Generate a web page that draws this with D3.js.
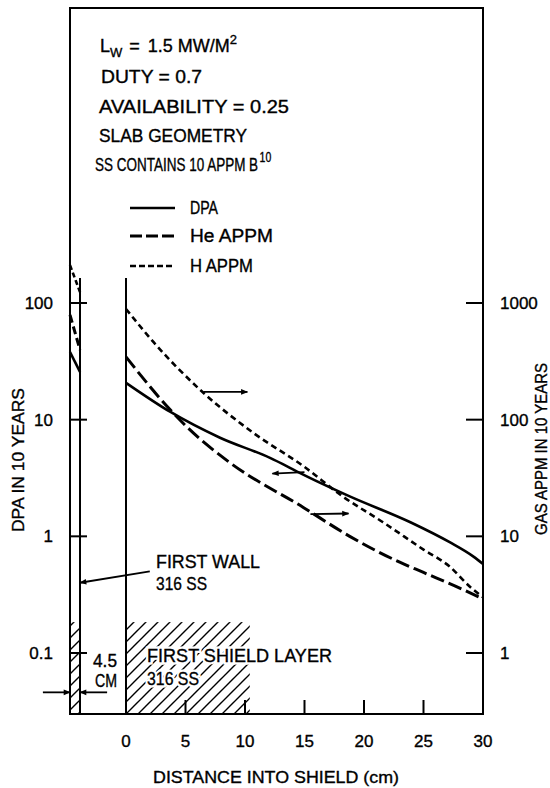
<!DOCTYPE html>
<html>
<head>
<meta charset="utf-8">
<script src="https://cdn.jsdelivr.net/npm/d3@7"></script>
<style>
  html, body { margin: 0; padding: 0; background: #fff; }
  svg { display: block; }
  text { font-family: "Liberation Sans", Arial, sans-serif; fill: #000; }
</style>
</head>
<body>
<script>
// ---------------- DATA ----------------
// Shield (distance into shield, cm)
const dpaDist = [0, 3.7, 7.9, 12.1, 13.5, 14.6, 18.8, 23.9, 27.2, 29.2, 30];
const dpaVal  = [20.7, 11.7, 7.0, 4.7, 4.0, 3.5, 2.2, 1.32, 0.89, 0.67, 0.58];   // DPA (left axis)
const heDist  = [0, 3.7, 5.1, 8.7, 14.9, 18.8, 23, 25, 28.3, 30];
const heVal   = [345, 122, 87, 43, 17.7, 10, 6.0, 4.9, 3.5, 2.9];                 // He APPM (right axis)
const hDist   = [0, 2.3, 6.5, 10.7, 14.9, 18.2, 21.6, 25, 27.2, 28.9, 30];
const hVal    = [889, 464, 170, 77, 40, 22, 13.2, 7.7, 5.5, 3.7, 3.0];             // H APPM (right axis)
// First wall (4.5 cm, separate scale)
const fwDist  = [0, 4.5];
const fwDpa   = [38, 25.7];
const fwHe    = [790, 396];
const fwH     = [2110, 1240];

const xTicks      = [0, 5, 10, 15, 20, 25, 30];
const leftTicks   = [0.1, 1, 10, 100];
const leftLabels  = ["0.1", "1", "10", "100"];
const rightTicks  = [1, 10, 100, 1000];
const rightLabels = ["1", "10", "100", "1000"];

const infoLines = ["DUTY = 0.7", "AVAILABILITY = 0.25", "SLAB GEOMETRY", "SS CONTAINS 10 APPM B"];
const legendNames = ["DPA", "He APPM", "H APPM"];

// ---------------- LAYOUT ----------------
const W = 550, H = 788;
const frame = { left: 70, right: 483, top: 8, bottom: 714 };

const svg = d3.select("body").append("svg").attr("width", W).attr("height", H);

const x  = d3.scaleLinear().domain([0, 30]).range([126, 483]);
const fw = d3.scaleLinear().domain([0, 4.5]).range([70, 80]);
const yL = d3.scaleLog().domain([0.1, 100]).range([653, 303]);
const yR = d3.scaleLog().domain([1, 1000]).range([653, 303]);

const ink = "#000";

// arrow marker
const defs = svg.append("defs");
defs.append("marker").attr("id", "ah")
  .attr("viewBox", "0 0 10 10").attr("refX", 9).attr("refY", 5)
  .attr("markerWidth", 13).attr("markerHeight", 7).attr("markerUnits", "userSpaceOnUse")
  .attr("orient", "auto")
  .append("path").attr("d", "M0,1 L10,5 L0,9 Z").attr("fill", ink);

const pat = defs.append("pattern").attr("id", "hatch")
  .attr("patternUnits", "userSpaceOnUse").attr("width", 12).attr("height", 12);
pat.append("path").attr("d", "M-3,3 L3,-3 M0,12 L12,0 M9,15 L15,9")
  .attr("stroke", ink).attr("stroke-width", 1.4);

// ---------------- HATCHED LAYERS ----------------
const hatchTop = 0.184; // DPA level of hatched block top
svg.append("rect").attr("x", x(0)).attr("y", yL(hatchTop))
  .attr("width", x(10.4) - x(0)).attr("height", frame.bottom - yL(hatchTop))
  .attr("fill", "url(#hatch)");
svg.append("rect").attr("x", fw(0)).attr("y", yL(hatchTop))
  .attr("width", fw(4.5) - fw(0)).attr("height", frame.bottom - yL(hatchTop))
  .attr("fill", "url(#hatch)");

// ---------------- FRAME ----------------
const g = svg.append("g").attr("stroke", ink).attr("stroke-width", 2).attr("fill", "none");
g.append("path").attr("d",
  `M${frame.left},${frame.bottom} L${frame.left},${frame.top} L${frame.right},${frame.top} L${frame.right},${frame.bottom} Z`);
// back of first wall and front of shield
const innerTop = yL(164);
g.append("line").attr("x1", fw(4.5)).attr("x2", fw(4.5)).attr("y1", innerTop).attr("y2", frame.bottom);
g.append("line").attr("x1", x(0)).attr("x2", x(0)).attr("y1", innerTop).attr("y2", frame.bottom);

// ticks
leftTicks.forEach(v => g.append("line").attr("x1", frame.left).attr("x2", frame.left + 17)
  .attr("y1", yL(v)).attr("y2", yL(v)));
rightTicks.forEach(v => g.append("line").attr("x1", frame.right - 17).attr("x2", frame.right)
  .attr("y1", yR(v)).attr("y2", yR(v)));
xTicks.forEach(v => g.append("line").attr("x1", x(v)).attr("x2", x(v))
  .attr("y1", frame.bottom).attr("y2", frame.bottom - 14));

// tick labels
const tl = svg.append("g").attr("font-size", 17).attr("stroke", ink).attr("stroke-width", 0.35);
leftTicks.forEach((v, i) => tl.append("text").attr("x", 53).attr("y", yL(v)).attr("dy", "0.36em")
  .attr("text-anchor", "end").text(leftLabels[i]));
rightTicks.forEach((v, i) => tl.append("text").attr("x", 500).attr("y", yR(v)).attr("dy", "0.36em")
  .attr("text-anchor", "start").text(rightLabels[i]));
xTicks.forEach(v => tl.append("text").attr("x", x(v)).attr("y", 747)
  .attr("text-anchor", "middle").text(v));

// axis titles
const at = svg.append("g").attr("font-size", 17).attr("stroke", ink).attr("stroke-width", 0.35);
at.append("text").attr("x", 153).attr("y", 783).attr("textLength", 246)
  .attr("lengthAdjust", "spacingAndGlyphs").text("DISTANCE INTO SHIELD (cm)");
at.append("text").attr("transform", "translate(24,532) rotate(-90)")
  .attr("textLength", 144).attr("lengthAdjust", "spacingAndGlyphs").text("DPA IN 10 YEARS");
at.append("text").attr("transform", "translate(547,535) rotate(-90)")
  .attr("textLength", 172).attr("lengthAdjust", "spacingAndGlyphs").text("GAS APPM IN 10 YEARS");

// ---------------- CURVES ----------------
const styles = [
  { w: 2.6, dash: null },
  { w: 3.0, dash: "14,5" },
  { w: 2.6, dash: "6,4" }
];
function drawCurve(dist, val, xs, ys, st) {
  const pts = dist.map((d, i) => [xs(d), ys(val[i])]);
  svg.append("path").datum(pts)
    .attr("d", d3.line().curve(d3.curveMonotoneX))
    .attr("fill", "none").attr("stroke", ink).attr("stroke-width", st.w)
    .attr("stroke-dasharray", st.dash);
}
drawCurve(dpaDist, dpaVal, x, yL, styles[0]);
drawCurve(heDist, heVal, x, yR, styles[1]);
drawCurve(hDist, hVal, x, yR, styles[2]);
drawCurve(fwDist, fwDpa, fw, yL, styles[0]);
drawCurve(fwDist, fwHe, fw, yR, { w: 3.0, dash: "8,4" });
drawCurve(fwDist, fwH, fw, yR, { w: 2.6, dash: "5,3" });

// ---------------- ARROWS ----------------
function arrow(x1, y1, x2, y2) {
  svg.append("line").attr("x1", x1).attr("y1", y1).attr("x2", x2).attr("y2", y2)
    .attr("stroke", ink).attr("stroke-width", 1.8).attr("marker-end", "url(#ah)");
}
arrow(x(6.5), yR(173), x(10.2), yR(173));     // H -> right axis
arrow(x(15.0), yL(3.55), x(12.3), yL(3.45));  // DPA -> left axis
arrow(x(15.5), yR(15.5), x(18.7), yR(15.7));  // He -> right axis
arrow(x(2.0), yL(0.50), fw(4.5), yL(0.40));   // first wall pointer
arrow(fw(-12.2), yL(0.046), fw(0), yL(0.046));
arrow(fw(16.7), yL(0.046), fw(4.5), yL(0.046));

// ---------------- TEXT ----------------
const tx = svg.append("g").attr("font-size", 18).attr("stroke", ink).attr("stroke-width", 0.35);
function label(xp, yp, s, len, halo) {
  if (halo) {
    tx.append("text").attr("x", xp).attr("y", yp).attr("textLength", len)
      .attr("lengthAdjust", "spacingAndGlyphs")
      .attr("stroke", "#fff").attr("stroke-width", 5).attr("fill", "#fff").text(s);
  }
  return tx.append("text").attr("x", xp).attr("y", yp).attr("textLength", len)
    .attr("lengthAdjust", "spacingAndGlyphs").text(s);
}
// L_W = 1.5 MW/M^2
const lw = tx.append("text").attr("x", 100).attr("y", 52);
lw.append("tspan").text("L");
lw.append("tspan").attr("font-size", 13).attr("dy", 5).text("W");
lw.append("tspan").attr("dy", -5).attr("dx", 7).text("=");
lw.append("tspan").attr("dx", 8).text("1.5 MW/M");
lw.append("tspan").attr("font-size", 13).attr("dy", -8).text("2");

label(101, 83, infoLines[0], 101);
label(99, 113, infoLines[1], 190);
label(99, 142, infoLines[2], 148);
// condensed line with B-10 superscript, one text element
const ss = tx.append("text").attr("transform", "translate(95,171) scale(0.75,1)");
ss.append("tspan").text(infoLines[3]);
ss.append("tspan").attr("font-size", 14).attr("dy", -9).attr("dx", 2).text("10");

// legend
const legY = [208, 236, 266];
const legLen = [28, 83, 63];
legendNames.forEach((n, i) => {
  svg.append("line").attr("x1", 130).attr("x2", 175).attr("y1", legY[i]).attr("y2", legY[i])
    .attr("stroke", ink).attr("stroke-width", styles[i].w)
    .attr("stroke-dasharray", i === 1 ? "12,4" : (i === 2 ? "6,3" : null));
  label(190, legY[i] + 6, n, legLen[i]);
});

label(156, 568, "FIRST WALL", 104);
label(156, 590, "316 SS", 51);
label(147, 662, "FIRST SHIELD LAYER", 185, true);
label(147, 685, "316 SS", 52, true);
label(93, 667, "4.5", 24, true);
label(95, 687, "CM", 22, true);
</script>
</body>
</html>
